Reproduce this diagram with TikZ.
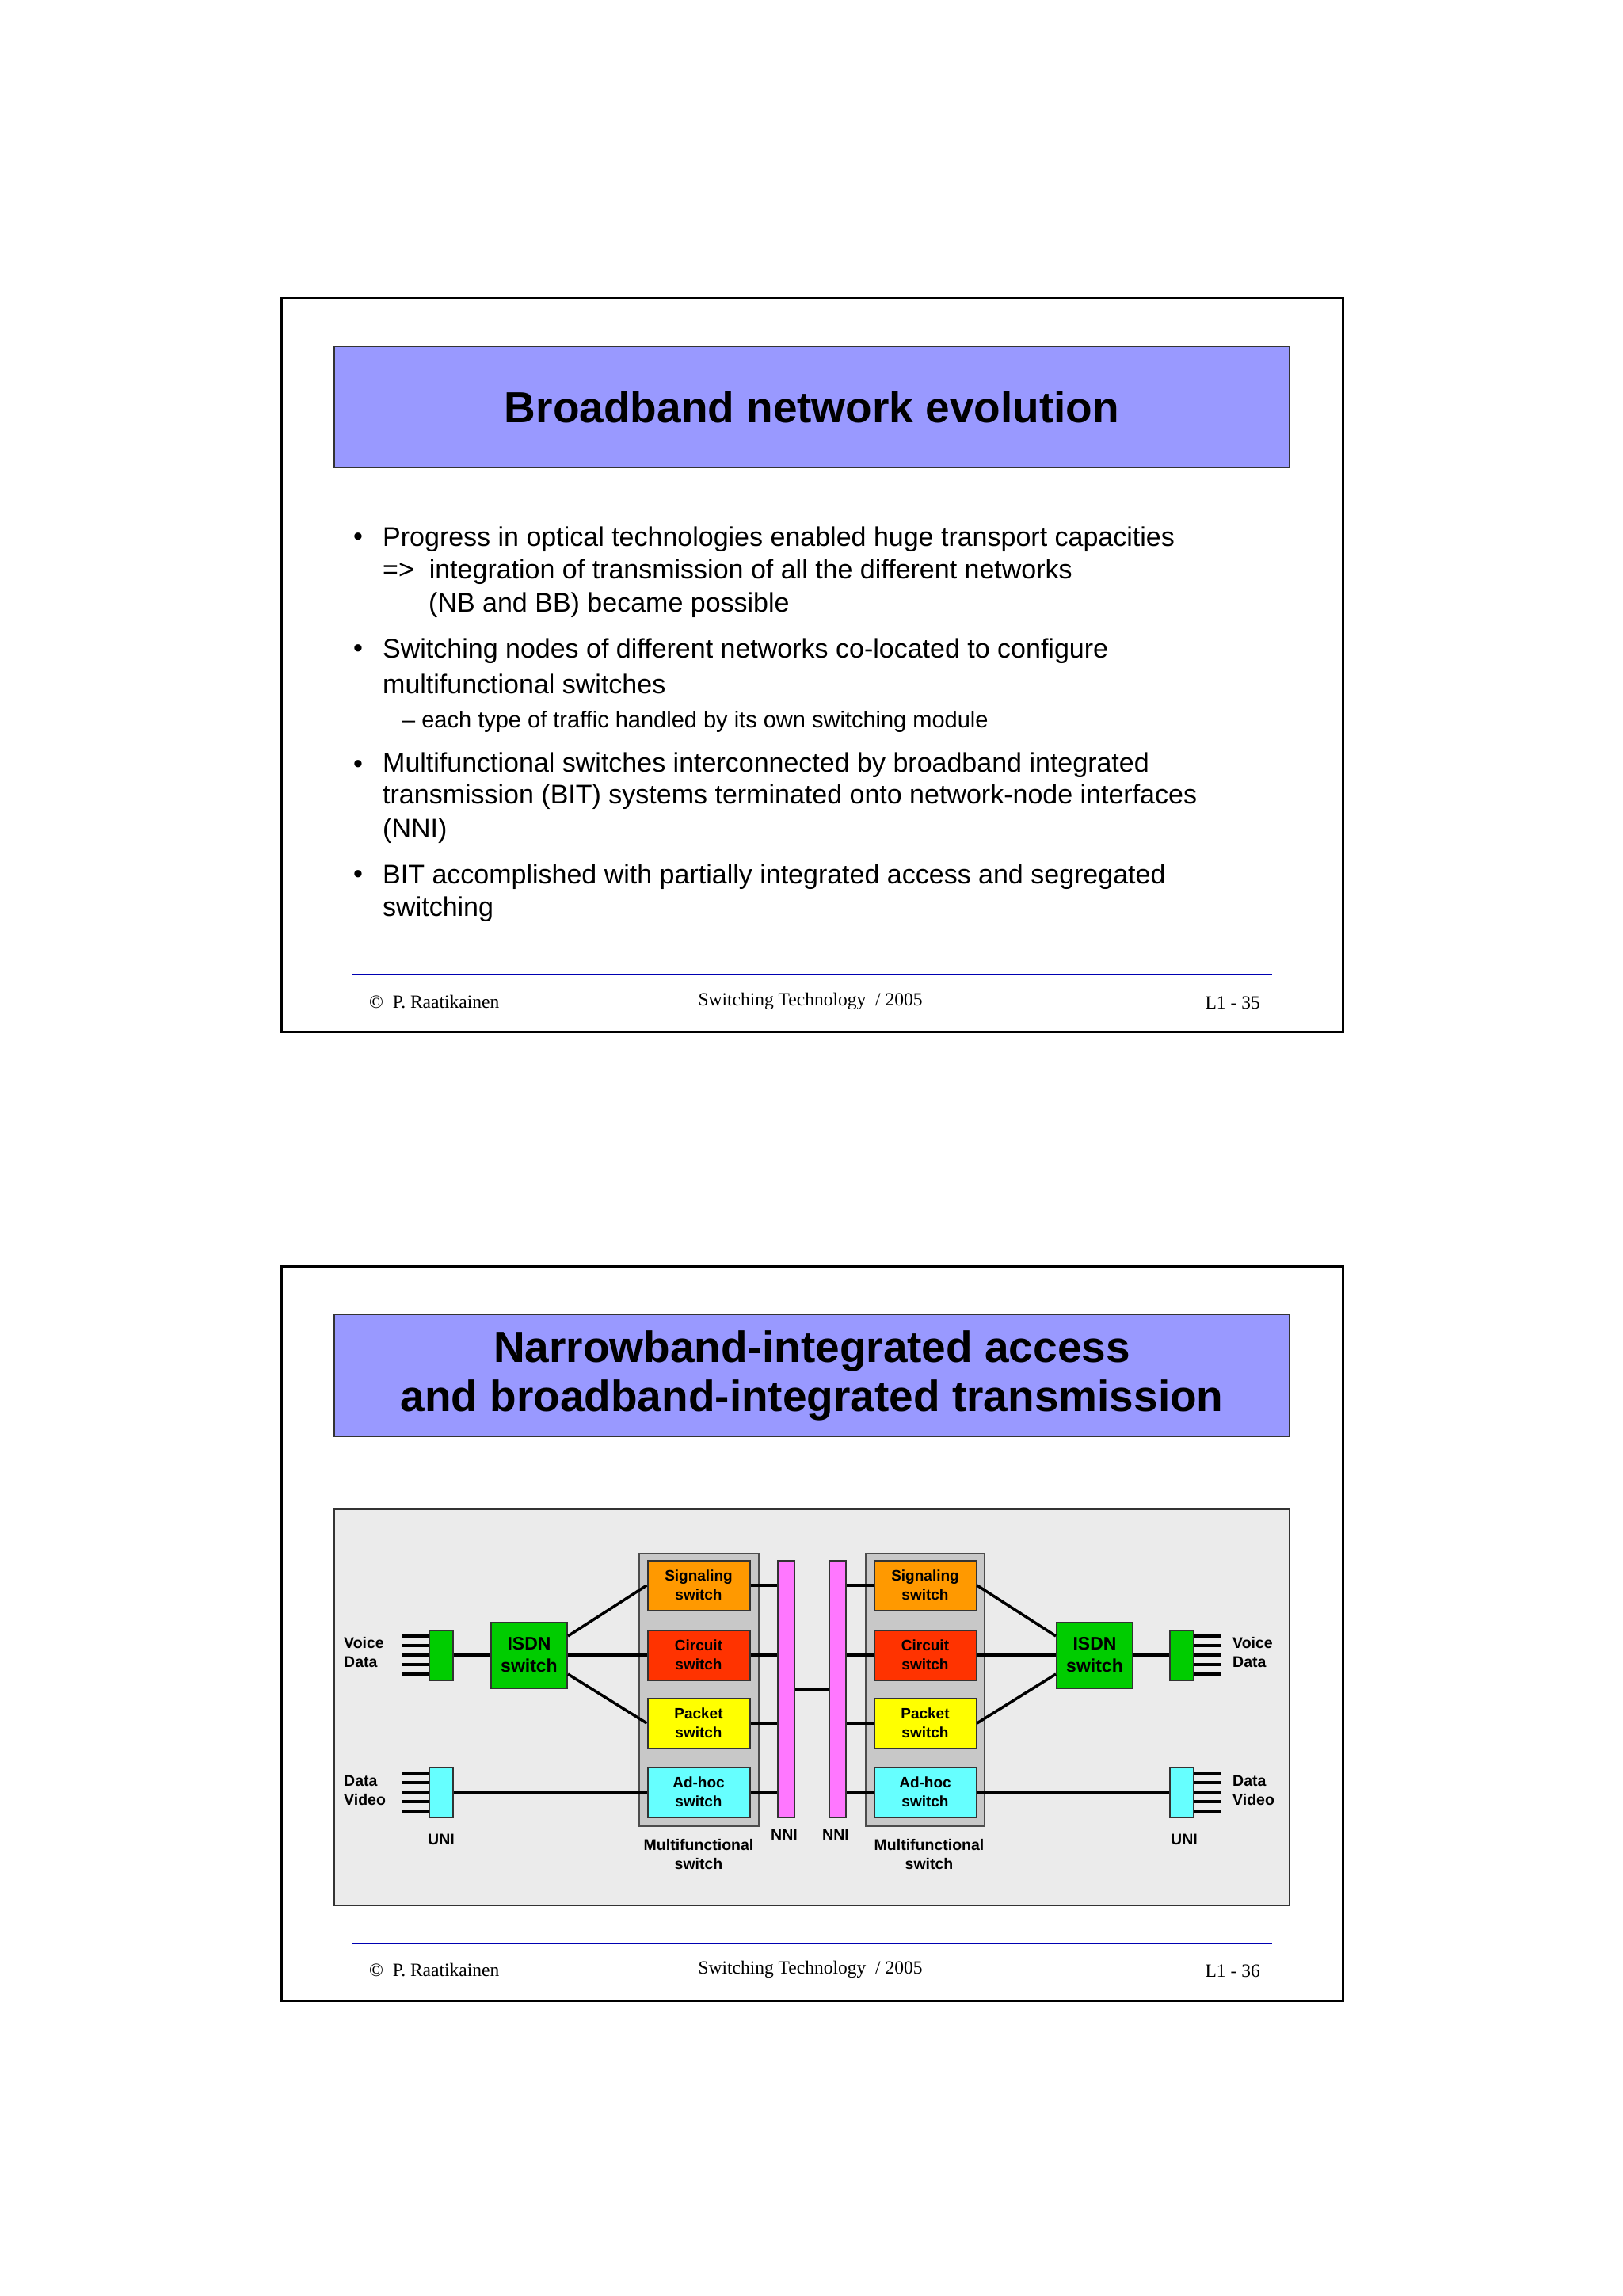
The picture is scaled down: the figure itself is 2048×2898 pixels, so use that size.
\documentclass[tikz,border=0pt]{standalone}
\usepackage{fontspec}
\setmainfont{Liberation Sans}
\newfontfamily\ser{Liberation Serif}
\begin{document}
\begin{tikzpicture}[x=1pt,y=-1pt,
  frame/.style={draw=black,line width=3pt},
  titlebox/.style={draw=black!80,line width=1.5pt,fill={rgb,255:red,153;green,153;blue,255}},
  bul/.style={anchor=west,inner sep=0,font=\fontsize{34}{40}\selectfont},
  foot/.style={inner sep=0,font=\ser\fontsize{23.5}{27}\selectfont},
  sw/.style={draw=black!80,line width=2pt,minimum width=129pt,minimum height=63pt,inner sep=0,align=center,font=\bfseries\fontsize{19}{24}\selectfont},
  isdn/.style={draw=black!80,line width=2pt,fill={rgb,255:red,0;green,204;blue,0},minimum width=96pt,minimum height=83pt,inner sep=0,align=center,font=\bfseries\fontsize{23}{28}\selectfont},
  uni/.style={draw=black!80,line width=2pt,minimum width=30pt,minimum height=63pt,inner sep=0},
  nni/.style={draw=black!80,line width=2pt,fill={rgb,255:red,255;green,119;blue,255},minimum width=21pt,minimum height=324pt,inner sep=0},
  lab/.style={inner sep=0,align=left,font=\bfseries\fontsize{19.5}{24}\selectfont},
  ln/.style={line width=3.5pt},
  grey/.style={draw=black!70,line width=2pt,fill={rgb,255:red,200;green,200;blue,200}}
]
\useasboundingbox (0,0) rectangle (2048,2898);
\fill[white] (0,0) rectangle (2048,2898);
% ---------- slide 1
\draw[frame] (355,376) rectangle (1695,1302);
\node[titlebox,minimum width=1206pt,minimum height=153pt] (t1) at (1025,514) {};
\node[font=\bfseries\fontsize{55}{66}\selectfont] (t1t) at (1025,514) {Broadband network evolution};
\foreach \y in {681,822,968,1107}{\node[bul] at (446,\y) {•};}
\node[bul] (a1) at (483,681) {Progress in optical technologies enabled huge transport capacities};
\node[bul] (a2) at (483,722) {=>\ \ integration of transmission of all the different networks};
\node[bul] (a3) at (541,764) {(NB and BB) became possible};
\node[bul] (b1) at (483,822) {Switching nodes of different networks co-located to configure};
\node[bul] (b2) at (483,863) {multifunctional switches};
\node[bul,font=\fontsize{29}{34}\selectfont] (b3) at (508,911) {– each type of traffic handled by its own switching module};
\node[bul] (c1) at (483,966) {Multifunctional switches interconnected by broadband integrated};
\node[bul] (c2) at (483,1006) {transmission (BIT) systems terminated onto network-node interfaces};
\node[bul] (c3) at (483,1049) {(NNI)};
\node[bul] (d1) at (483,1107) {BIT accomplished with partially integrated access and segregated};
\node[bul] (d2) at (483,1148) {switching};
\draw[blue!70!black,line width=1.5pt] (444,1230) -- (1606,1230);
\node[foot,anchor=west] (f1) at (466,1264) {©\ \ P. Raatikainen};
\node[foot] (f2) at (1023,1264) {Switching Technology\ \ / 2005};
\node[foot,anchor=east] (f3) at (1591,1266) {L1 - 35};
% ---------- slide 2
\draw[frame] (355,1598) rectangle (1695,2525);
\node[titlebox,minimum width=1206pt,minimum height=154pt] (t2) at (1025,1736) {};
\node[font=\bfseries\fontsize{55}{62}\selectfont,align=center] (t2t) at (1025,1736) {Narrowband-integrated access\\and broadband-integrated transmission};
\draw[draw=black!80,line width=2pt,fill={rgb,255:red,235;green,235;blue,235}] (422,1905) rectangle (1628,2405);
\draw[grey] (807,1961) rectangle (958,2305);
\draw[grey] (1093,1961) rectangle (1243,2305);
\node[sw,fill={rgb,255:red,255;green,153;blue,0}] (ls) at (882,2001) {Signaling\\switch};
\node[sw,fill={rgb,255:red,255;green,51;blue,0}] (lc) at (882,2089) {Circuit\\switch};
\node[sw,fill={rgb,255:red,255;green,255;blue,0}] (lp) at (882,2175) {Packet\\switch};
\node[sw,fill={rgb,255:red,102;green,255;blue,255}] (la) at (882,2262) {Ad-hoc\\switch};
\node[sw,fill={rgb,255:red,255;green,153;blue,0}] (rs) at (1168,2001) {Signaling\\switch};
\node[sw,fill={rgb,255:red,255;green,51;blue,0}] (rc) at (1168,2089) {Circuit\\switch};
\node[sw,fill={rgb,255:red,255;green,255;blue,0}] (rp) at (1168,2175) {Packet\\switch};
\node[sw,fill={rgb,255:red,102;green,255;blue,255}] (ra) at (1168,2262) {Ad-hoc\\switch};
\node[nni] (ln) at (992,2132) {};
\node[nni] (rn) at (1057,2132) {};
\node[isdn] (li) at (668,2089) {ISDN\\switch};
\node[isdn] (ri) at (1382,2089) {ISDN\\switch};
\node[uni,fill={rgb,255:red,0;green,204;blue,0}] (lu1) at (557,2089) {};
\node[uni,fill={rgb,255:red,102;green,255;blue,255}] (lu2) at (557,2262) {};
\node[uni,fill={rgb,255:red,0;green,204;blue,0}] (ru1) at (1492,2089) {};
\node[uni,fill={rgb,255:red,102;green,255;blue,255}] (ru2) at (1492,2262) {};
\foreach \n in {lu1,lu2}{\foreach \d in {-24,-12,0,12,24}{\draw[ln] ([yshift=\d pt]\n.west) -- ++(-33,0);}}
\foreach \n in {ru1,ru2}{\foreach \d in {-24,-12,0,12,24}{\draw[ln] ([yshift=\d pt]\n.east) -- ++(33,0);}}
\draw[ln] (lu1) -- (li);
\draw[ln] (lu2) -- (la);
\draw[ln] ([yshift=24pt]li.east) -- (ls.west);
\draw[ln] (li) -- (lc);
\draw[ln] ([yshift=-24pt]li.east) -- (lp.west);
\draw[ln] (ru1) -- (ri);
\draw[ln] (ru2) -- (ra);
\draw[ln] ([yshift=24pt]ri.west) -- (rs.east);
\draw[ln] (ri) -- (rc);
\draw[ln] ([yshift=-24pt]ri.west) -- (rp.east);
\foreach \s in {ls,lc,lp,la}{\draw[ln] (\s.east) -- (\s.east -| ln.west);}
\foreach \s in {rs,rc,rp,ra}{\draw[ln] (\s.west) -- (\s.west -| rn.east);}
\draw[ln] (ln.east) -- (rn.west);
\node[lab,anchor=west] (v1) at (434,2086) {Voice\\Data};
\node[lab,anchor=west] (v2) at (434,2260) {Data\\Video};
\node[lab,anchor=west] (v3) at (1556,2086) {Voice\\Data};
\node[lab,anchor=west] (v4) at (1556,2260) {Data\\Video};
\node[lab] (u1) at (557,2322) {UNI};
\node[lab] (u2) at (1495,2322) {UNI};
\node[lab] (n1) at (990,2316) {NNI};
\node[lab] (n2) at (1055,2316) {NNI};
\node[lab,align=center] (m1) at (882,2341) {Multifunctional\\switch};
\node[lab,align=center] (m2) at (1173,2341) {Multifunctional\\switch};
\draw[blue!70!black,line width=1.5pt] (444,2453) -- (1606,2453);
\node[foot,anchor=west] (g1) at (466,2486) {©\ \ P. Raatikainen};
\node[foot] (g2) at (1023,2486) {Switching Technology\ \ / 2005};
\node[foot,anchor=east] (g3) at (1591,2488) {L1 - 36};
\end{tikzpicture}
\end{document}
